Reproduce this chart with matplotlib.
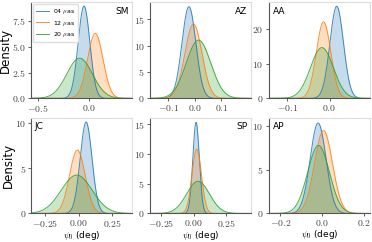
import numpy as np
import matplotlib
matplotlib.use("Agg")
import matplotlib.pyplot as plt

plt.rcParams["mathtext.fontset"] = "cm"
plt.rcParams["font.family"] = "DejaVu Sans"

# panel names, in reading order
panels = ["SM", "AZ", "AA", "JC", "SP", "AP"]
series = ["04 $\\mu$as", "12 $\\mu$as", "20 $\\mu$as"]
colors = ["#1f77b4", "#ff7f0e", "#2ca02c"]

# centre (deg) of each posterior, per panel: [04, 12, 20 uas]
centres = {
    "SM": [-0.047, 0.063, -0.09],
    "AZ": [-0.022, -0.005, 0.014],
    "AA": [0.017, -0.014, -0.018],
    "JC": [0.055, -0.01, -0.015],
    "SP": [0.019, 0.024, 0.034],
    "AP": [-0.02, 0.006, -0.018],
}
# spread (deg) of each posterior, per panel
widths = {
    "SM": [0.057, 0.075, 0.125],
    "AZ": [0.026, 0.032, 0.046],
    "AA": [0.016, 0.017, 0.027],
    "JC": [0.044, 0.058, 0.115],
    "SP": [0.025, 0.036, 0.088],
    "AP": [0.038, 0.043, 0.052],
}
# peak density of each posterior, per panel
peaks = {
    "SM": [8.95, 6.3, 3.9],
    "AZ": [17.4, 14.1, 11.05],
    "AA": [26.5, 22.0, 14.6],
    "JC": [10.1, 7.0, 4.24],
    "SP": [15.3, 10.8, 5.4],
    "AP": [10.37, 9.5, 7.8],
}

xlims = {
    "SM": (-0.565, 0.425), "AZ": (-0.169, 0.212), "AA": (-0.144, 0.096),
    "JC": (-0.356, 0.40), "SP": (-0.337, 0.443), "AP": (-0.257, 0.229),
}
ylims = {"SM": 9.3, "AZ": 18.2, "AA": 27.6, "JC": 10.6, "SP": 16.1, "AP": 11.0}

xticks = {
    "SM": [-0.5, 0.0], "AZ": [-0.1, 0.0, 0.1], "AA": [-0.1, 0.0],
    "JC": [-0.25, 0.0, 0.25], "SP": [-0.25, 0.0, 0.25], "AP": [-0.2, 0.0, 0.2],
}
xdec = {"SM": 1, "AZ": 1, "AA": 1, "JC": 2, "SP": 2, "AP": 1}
yticks = {
    "SM": [0.0, 2.5, 5.0, 7.5], "AZ": [0, 5, 10, 15], "AA": [0, 10, 20],
    "JC": [0, 5, 10], "SP": [0, 5, 10, 15], "AP": [0, 5, 10],
}
ydec = {"SM": 1, "AZ": 0, "AA": 0, "JC": 0, "SP": 0, "AP": 0}
label_side = {"SM": "right", "AZ": "right", "AA": "left",
              "JC": "left", "SP": "right", "AP": "left"}


def bump(x, m, s, h):
    return h * np.exp(-0.5 * ((x - m) / s) ** 2)


def fmt(v, d):
    return "$%s$" % f"{v:.{d}f}"


fig, axes = plt.subplots(2, 3, figsize=(3.72, 2.42), dpi=100)
fig.subplots_adjust(left=0.083, right=0.995, top=0.99, bottom=0.118,
                    wspace=0.17, hspace=0.2)

for i, (ax, name) in enumerate(zip(axes.flat, panels)):
    x = np.linspace(xlims[name][0], xlims[name][1], 400)
    for k in range(3):
        y = bump(x, centres[name][k], widths[name][k], peaks[name][k])
        ax.fill_between(x, 0, y, color=colors[k], alpha=0.25, lw=0)
        ax.plot(x, y, color=colors[k], lw=0.7, alpha=0.85, label=series[k])
    ax.set_xlim(*xlims[name])
    ax.set_ylim(0, ylims[name])
    ax.set_xticks(xticks[name], [fmt(v, xdec[name]) for v in xticks[name]])
    ax.set_yticks(yticks[name], [fmt(v, ydec[name]) for v in yticks[name]])
    ax.tick_params(labelsize=7, length=2.5, width=0.6, pad=1,
                   colors="#444444")
    for s in ["left", "bottom"]:
        ax.spines[s].set_color("#555555")
        ax.spines[s].set_linewidth(0.8)
    for s in ["top", "right"]:
        ax.spines[s].set_color("#dddddd")
        ax.spines[s].set_linewidth(0.8)
    if label_side[name] == "right":
        ax.text(0.96, 0.95, name, transform=ax.transAxes, ha="right",
                va="top", fontsize=6.5)
    else:
        ax.text(0.04, 0.95, name, transform=ax.transAxes, ha="left",
                va="top", fontsize=6.5)
    if i % 3 == 0:
        ax.set_ylabel("Density", fontsize=8.5, labelpad=0)
    if i >= 3:
        ax.set_xlabel("$\\psi_0$ (deg)", fontsize=6.5, labelpad=0)

axes[0, 0].legend(loc="upper left", fontsize=4.5, frameon=True,
                  handlelength=2.2, borderpad=0.45, labelspacing=0.4,
                  handletextpad=0.6, borderaxespad=0.3,
                  framealpha=1, edgecolor="#dddddd", fancybox=True)

fig.savefig("out.png", dpi=100)
